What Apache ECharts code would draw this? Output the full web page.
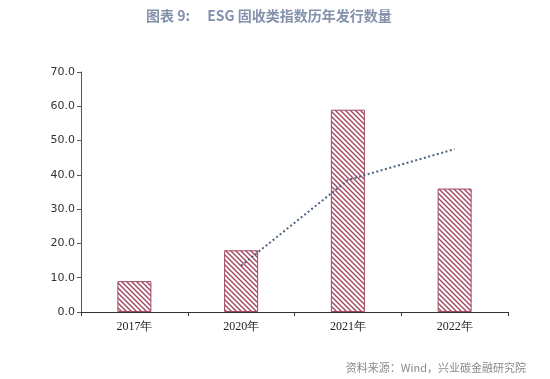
<!DOCTYPE html>
<html><head><meta charset="utf-8">
<script src="https://cdn.jsdelivr.net/npm/echarts@6/dist/echarts.min.js"></script>
<style>html,body{margin:0;padding:0;background:#fff}#c{width:550px;height:379px}</style>
</head><body><div id="c"></div>
<script>
const categories = ['2017年', '2020年', '2021年', '2022年'];
const issuance = [9, 18, 59, 36];
const movingAvg = [null, 13.5, 38.5, 47.5];
const yTicks = [0, 10, 20, 30, 40, 50, 60, 70];

function stripe() {
  const c = document.createElement('canvas');
  c.width = 5; c.height = 5;
  const g = c.getContext('2d');
  g.fillStyle = '#fff'; g.fillRect(0, 0, 5, 5);
  g.strokeStyle = '#a3465f'; g.lineWidth = 1.4;
  g.beginPath();
  g.moveTo(-1, -1); g.lineTo(6, 6);
  g.moveTo(-1, 4); g.lineTo(1, 6);
  g.moveTo(4, -1); g.lineTo(6, 1);
  g.stroke();
  return c;
}

const chart = echarts.init(document.getElementById('c'), null, {renderer: 'canvas'});
chart.setOption({
  animation: false,
  title: [{
    text: '图表 9:\u3000 ESG 固收类指数历年发行数量',
    left: 141, top: 4,
    textStyle: {fontFamily: 'Noto Sans CJK SC', fontSize: 14, fontWeight: 'bold', color: '#8391ab'}
  }, {
    text: '资料来源：Wind，兴业碳金融研究院',
    right: 19, top: 357,
    textStyle: {fontFamily: 'Noto Sans CJK SC', fontSize: 11, fontWeight: 'normal', color: '#8a8a8a'}
  }],
  grid: {left: 81, right: 42, top: 72, bottom: 67},
  xAxis: {
    type: 'category', data: categories,
    axisLine: {lineStyle: {color: '#333', width: 1}},
    axisTick: {show: true, alignWithLabel: false, length: 4, lineStyle: {color: '#333'}},
    axisLabel: {fontFamily: 'Liberation Serif', fontSize: 12, color: '#222', margin: 9}
  },
  yAxis: {
    type: 'value', min: yTicks[0], max: yTicks[yTicks.length - 1], interval: 10,
    splitLine: {show: false},
    axisLine: {show: true, lineStyle: {color: '#555', width: 1}},
    axisTick: {show: true, length: 4, lineStyle: {color: '#555'}},
    axisLabel: {fontFamily: 'DejaVu Sans', fontSize: 11, color: '#333', margin: 6,
      formatter: v => v.toFixed(1)}
  },
  series: [{
    type: 'bar', data: issuance, barWidth: 34,
    itemStyle: {color: {image: stripe(), repeat: 'repeat'}, borderColor: '#a3465f', borderWidth: 1}
  }, {
    type: 'line', data: movingAvg, symbol: 'none', z: 5,
    lineStyle: {color: '#4f6382', width: 2, type: [2, 2.5]}
  }]
});
</script></body></html>
